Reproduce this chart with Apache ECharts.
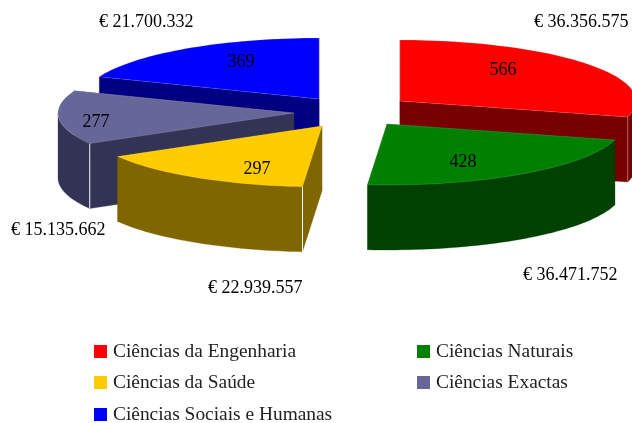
<!DOCTYPE html>
<html>
<head>
<meta charset="utf-8">
<style>html,body{margin:0;padding:0;background:#fff}#chart{width:632px;height:423px}</style>
<script src="https://cdn.jsdelivr.net/npm/echarts@6/dist/echarts.min.js"></script>
</head>
<body>
<div id="chart"></div>
<script>
const categories = ['Ciências da Engenharia', 'Ciências Naturais', 'Ciências da Saúde', 'Ciências Exactas', 'Ciências Sociais e Humanas'];
const projectCounts = [566, 428, 297, 277, 369];
const fundingLabels = ['€ 36.356.575', '€ 36.471.752', '€ 22.939.557', '€ 15.135.662', '€ 21.700.332'];

const topColors = ['#FF0000', '#008000', '#FFCC00', '#666699', '#0000FF'];
const wallColors = ['#770000', '#004000', '#806600', '#333355', '#000080'];
const apexes = [[400, 101], [387, 124], [322, 126], [294, 113], [319, 99]];
const countAnchors = [[503, 70], [463, 162], [257, 169], [96, 122], [241, 62]];
const fundingAnchors = [[534, 22], [523, 275], [208, 288], [11, 230], [99, 22]];
const legendSpots = [[94, 342], [417, 342], [94, 373], [417, 373], [94, 405]];
const cornerAlpha = [0.35, 0.15, 0.95, 0.95, 0];
const drawOrder = [4, 0, 3, 2, 1];
const RX = 236, RY = 61, DEPTH = 65;
const FONT = '"Liberation Serif", serif';

const total = projectCounts.reduce((a, b) => a + b, 0);
const starts = [];
projectCounts.reduce((acc, v, i) => { starts[i] = acc; return acc + v; }, 0);
const toAngle = v => v / total * Math.PI * 2;

function rimPoint(apex, a, drop) {
  return [apex[0] + RX * Math.sin(a), apex[1] - RY * Math.cos(a) + (drop || 0)];
}
function arcPoints(apex, a0, a1, drop) {
  const n = Math.max(2, Math.ceil((a1 - a0) / 0.03));
  const out = [];
  for (let i = 0; i <= n; i++) out.push(rimPoint(apex, a0 + (a1 - a0) * i / n, drop));
  return out;
}
function poly(points, fill, stroke) {
  return { type: 'polygon', silent: true,
    shape: { points: points },
    style: { fill: fill, stroke: stroke || fill, lineWidth: stroke ? 0.6 : 0.3 } };
}
function makeRender(idx) {
  return function (params, api) {
    const count = api.value(0);
    const a0 = toAngle(starts[idx]);
    const a1 = a0 + toAngle(count);
    const apex = apexes[idx];
    const apexLow = [apex[0], apex[1] + DEPTH];
    const wall = wallColors[idx];
    const children = [];
    [a0, a1].forEach(function (a) {
      const p = rimPoint(apex, a), q = rimPoint(apex, a, DEPTH);
      children.push(poly([apex, p, q, apexLow], wall));
    });
    const f0 = Math.max(a0, Math.PI / 2), f1 = Math.min(a1, Math.PI * 1.5);
    if (f1 > f0) {
      const up = arcPoints(apex, f0, f1, 0);
      const low = arcPoints(apex, f0, f1, DEPTH).reverse();
      children.push(poly(up.concat(low), wall));
    }
    const alpha = cornerAlpha[idx];
    if (alpha > 0) {
      const cornerA = (idx === 0 || idx === 1) ? a1 : a0;
      const c = rimPoint(apex, cornerA);
      children.push({ type: 'line', silent: true,
        shape: { x1: c[0], y1: c[1], x2: c[0], y2: c[1] + DEPTH },
        style: { stroke: 'rgba(255,255,255,' + alpha + ')', lineWidth: 1 } });
    }
    const top = [apex].concat(arcPoints(apex, a0, a1, 0));
    children.push(poly(top, topColors[idx], 'rgba(255,255,255,0.25)'));
    children.push({ type: 'text', silent: true,
      style: { text: String(count), x: countAnchors[idx][0], y: countAnchors[idx][1],
        align: 'center', verticalAlign: 'middle', fill: '#000', font: '18px ' + FONT } });
    children.push({ type: 'text', silent: true,
      style: { text: fundingLabels[idx], x: fundingAnchors[idx][0], y: fundingAnchors[idx][1],
        align: 'left', verticalAlign: 'middle', fill: '#000', font: '18px ' + FONT } });
    return { type: 'group', children: children };
  };
}

const chart = echarts.init(document.getElementById('chart'), null, { renderer: 'canvas' });
chart.setOption({
  animation: false,
  backgroundColor: '#fff',
  legend: categories.map(function (name, i) {
    return {
      data: [name], left: legendSpots[i][0], top: legendSpots[i][1], padding: 0,
      icon: 'rect', itemWidth: 13, itemHeight: 13, itemGap: 0,
      selectedMode: false,
      textStyle: { fontFamily: FONT, fontSize: 19.4, color: '#222', padding: [0, 0, 0, 1] }
    };
  }),
  series: drawOrder.map(function (i, order) {
    return {
      type: 'custom', name: categories[i], coordinateSystem: 'none', z: 2 + order,
      itemStyle: { color: topColors[i] },
      renderItem: makeRender(i),
      encode: { value: 0 },
      data: [[projectCounts[i]]]
    };
  })
});
</script>
</body>
</html>
